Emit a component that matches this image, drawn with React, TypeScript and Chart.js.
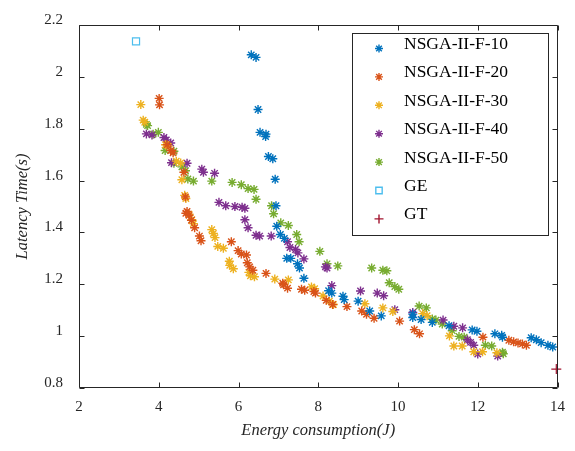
import React, { useEffect, useRef } from "react";
import { Chart, registerables } from "chart.js";

Chart.register(...registerables);

const xTicks = [2, 4, 6, 8, 10, 12, 14];
const yTicks = [0.8, 1, 1.2, 1.4, 1.6, 1.8, 2, 2.2];

const seriesLabels = ["NSGA-II-F-10", "NSGA-II-F-20", "NSGA-II-F-30", "NSGA-II-F-40", "NSGA-II-F-50", "GE", "GT"];

const f10Energy = [6.32, 6.44, 6.49, 6.54, 6.69, 6.68, 6.75, 6.86, 6.92, 6.94, 6.96, 7.05, 7.15, 7.21, 7.31, 7.48, 7.53, 7.64, 8.26, 8.34, 8.62, 8.65, 9.0, 9.29, 9.58, 10.37, 10.37, 10.58, 10.86, 11.28, 11.86, 11.98, 12.43, 12.6, 12.62, 13.34, 13.47, 13.59, 13.76, 13.88];
const f10Latency = [2.085, 2.075, 1.874, 1.786, 1.779, 1.77, 1.693, 1.684, 1.605, 1.503, 1.424, 1.392, 1.377, 1.3, 1.3, 1.279, 1.263, 1.223, 1.175, 1.166, 1.154, 1.141, 1.135, 1.097, 1.078, 1.085, 1.072, 1.064, 1.053, 1.04, 1.024, 1.019, 1.009, 1.003, 0.996, 0.994, 0.986, 0.975, 0.965, 0.958];

const f20Energy = [4.01, 4.02, 4.21, 4.3, 4.36, 4.63, 4.67, 4.71, 4.68, 4.76, 4.82, 4.9, 5.02, 5.06, 5.82, 5.99, 6.07, 6.2, 6.22, 6.28, 6.36, 6.69, 7.11, 7.13, 7.23, 7.58, 7.66, 7.89, 7.93, 8.2, 8.36, 8.72, 9.09, 9.21, 9.4, 10.04, 10.41, 10.54, 12.13, 12.78, 12.9, 13.01, 13.12, 13.22];
const f20Latency = [1.917, 1.892, 1.738, 1.716, 1.707, 1.632, 1.537, 1.481, 1.474, 1.466, 1.447, 1.418, 1.386, 1.368, 1.364, 1.33, 1.317, 1.313, 1.283, 1.267, 1.254, 1.242, 1.204, 1.198, 1.185, 1.181, 1.177, 1.172, 1.166, 1.138, 1.122, 1.114, 1.097, 1.084, 1.069, 1.058, 1.025, 1.009, 0.996, 0.984, 0.978, 0.974, 0.97, 0.965];

const f30Energy = [3.55, 3.61, 3.65, 4.17, 4.24, 4.44, 4.55, 4.58, 4.65, 4.68, 4.76, 4.83, 4.87, 5.33, 5.37, 5.41, 5.48, 5.62, 5.77, 5.78, 5.87, 6.26, 6.3, 6.4, 6.91, 7.25, 7.83, 7.91, 8.12, 8.28, 8.38, 9.17, 9.62, 9.87, 10.62, 10.73, 11.29, 11.4, 11.61, 11.9, 12.12, 12.48];
const f30Latency = [1.893, 1.833, 1.825, 1.738, 1.733, 1.675, 1.668, 1.603, 1.543, 1.531, 1.47, 1.449, 1.434, 1.411, 1.396, 1.38, 1.346, 1.339, 1.289, 1.273, 1.26, 1.246, 1.233, 1.229, 1.22, 1.217, 1.19, 1.183, 1.155, 1.135, 1.122, 1.125, 1.109, 1.095, 1.087, 1.079, 1.001, 0.962, 0.962, 0.94, 0.94, 0.936];

const f40Energy = [3.69, 3.83, 4.13, 4.19, 4.3, 4.32, 4.71, 5.08, 5.12, 5.4, 5.51, 5.68, 5.91, 6.09, 6.16, 6.16, 6.24, 6.44, 6.53, 6.82, 7.23, 7.29, 7.43, 7.49, 7.64, 8.18, 8.22, 8.34, 9.06, 9.48, 9.64, 9.92, 10.37, 11.13, 11.4, 11.62, 11.74, 11.82, 11.9, 12.0, 12.5];
const f40Latency = [1.78, 1.776, 1.766, 1.757, 1.745, 1.669, 1.667, 1.644, 1.632, 1.628, 1.516, 1.503, 1.5, 1.497, 1.493, 1.449, 1.418, 1.389, 1.386, 1.386, 1.364, 1.342, 1.334, 1.321, 1.298, 1.267, 1.263, 1.195, 1.174, 1.166, 1.156, 1.102, 1.091, 1.062, 1.038, 1.032, 0.986, 0.976, 0.965, 0.931, 0.923];

const f50Energy = [3.69, 3.72, 3.86, 3.99, 4.16, 4.38, 4.38, 4.58, 4.67, 4.73, 4.87, 5.33, 5.84, 6.07, 6.24, 6.39, 6.44, 6.83, 6.88, 7.06, 7.25, 7.46, 7.52, 8.04, 8.22, 8.49, 9.34, 9.62, 9.72, 9.78, 9.92, 10.02, 10.53, 10.71, 10.86, 10.95, 11.11, 11.36, 11.53, 11.66, 12.19, 12.35, 12.62, 12.64];
const f50Latency = [1.817, 1.812, 1.779, 1.786, 1.716, 1.713, 1.667, 1.653, 1.638, 1.606, 1.598, 1.598, 1.593, 1.584, 1.569, 1.566, 1.528, 1.503, 1.472, 1.437, 1.427, 1.392, 1.364, 1.327, 1.279, 1.271, 1.263, 1.254, 1.252, 1.206, 1.191, 1.181, 1.116, 1.109, 1.066, 1.062, 1.047, 1.021, 0.999, 0.996, 0.965, 0.962, 0.938, 0.932];

const geEnergy = [3.43];
const geLatency = [2.137];
const gtEnergy = [13.97];
const gtLatency = [0.873];

const colors = ["#0072BD", "#D95319", "#EDB120", "#7E2F8E", "#77AC30", "#4DBEEE", "#A2142F"];
const AX = "#262626";
const FONT = "'Liberation Serif', 'Times New Roman', serif";

function pts(xs: number[], ys: number[]) {
  return xs.map((x, i) => ({ x, y: ys[i] }));
}

function drawMarker(ctx: CanvasRenderingContext2D, style: string, x: number, y: number, r: number, color: string, lw: number) {
  ctx.save();
  ctx.strokeStyle = color;
  ctx.lineWidth = lw;
  ctx.beginPath();
  if (style === "star") {
    ctx.moveTo(x - r, y); ctx.lineTo(x + r, y);
    ctx.moveTo(x, y - r); ctx.lineTo(x, y + r);
    const d = r * Math.SQRT1_2;
    ctx.moveTo(x - d, y - d); ctx.lineTo(x + d, y + d);
    ctx.moveTo(x - d, y + d); ctx.lineTo(x + d, y - d);
  } else if (style === "rect") {
    const s = r * Math.SQRT1_2;
    ctx.rect(x - s, y - s, 2 * s, 2 * s);
  } else {
    ctx.moveTo(x - r, y); ctx.lineTo(x + r, y);
    ctx.moveTo(x, y - r); ctx.lineTo(x, y + r);
  }
  ctx.stroke();
  ctx.restore();
}

const boxPlugin = {
  id: "matlabBox",
  afterDatasetsDraw(chart: any) {
    const { ctx, chartArea } = chart;
    const { left, right, top, bottom } = chartArea;
    const xs = chart.scales.x;
    const ys = chart.scales.y;
    ctx.save();
    ctx.strokeStyle = AX;
    ctx.lineWidth = 1;
    const L = Math.round(left) + 0.5, R = Math.round(right) - 0.5, T = Math.round(top) + 0.5, B = Math.round(bottom) - 0.5;
    ctx.beginPath();
    ctx.rect(L, T, R - L, B - T);
    ctx.stroke();
    const tl = 5;
    ctx.beginPath();
    xTicks.forEach((v) => {
      const px = Math.round(xs.getPixelForValue(v)) + 0.5;
      ctx.moveTo(px, B); ctx.lineTo(px, B - tl);
      ctx.moveTo(px, T); ctx.lineTo(px, T + tl);
    });
    yTicks.forEach((v) => {
      const py = Math.round(ys.getPixelForValue(v)) + 0.5;
      ctx.moveTo(L, py); ctx.lineTo(L + tl, py);
      ctx.moveTo(R, py); ctx.lineTo(R - tl, py);
    });
    ctx.stroke();
    ctx.restore();
  },
  afterDraw(chart: any) {
    const { ctx } = chart;
    const bx = 352.5, by = 33.5, bw = 196, bh = 202;
    ctx.save();
    ctx.fillStyle = "#ffffff";
    ctx.fillRect(bx, by, bw, bh);
    ctx.strokeStyle = AX;
    ctx.lineWidth = 1;
    ctx.strokeRect(bx, by, bw, bh);
    ctx.font = `17.5px ${FONT}`;
    ctx.fillStyle = "#000000";
    ctx.textAlign = "left";
    ctx.textBaseline = "alphabetic";
    chart.data.datasets.forEach((ds: any, i: number) => {
      const ry = 48.5 + i * 28.4;
      drawMarker(ctx, ds.pointStyle, 379, ry, ds.pointStyle === "star" ? 4 : 4.5, ds.borderColor, 1.4);
      ctx.fillText(ds.label, 404, ry + 0.5);
    });
    ctx.restore();
  },
};

export default function App() {
  const ref = useRef<HTMLCanvasElement | null>(null);

  useEffect(() => {
    if (!ref.current) return;
    const starSet = (label: string, data: any[], color: string) => ({
      label,
      data,
      pointStyle: "star",
      borderColor: color,
      backgroundColor: color,
      pointRadius: 4.5,
      pointHoverRadius: 4.5,
      pointBorderWidth: 1.4,
      showLine: false,
    });
    const chart = new Chart(ref.current, {
      type: "scatter",
      data: {
        datasets: [
          starSet(seriesLabels[0], pts(f10Energy, f10Latency), colors[0]),
          starSet(seriesLabels[1], pts(f20Energy, f20Latency), colors[1]),
          starSet(seriesLabels[2], pts(f30Energy, f30Latency), colors[2]),
          starSet(seriesLabels[3], pts(f40Energy, f40Latency), colors[3]),
          starSet(seriesLabels[4], pts(f50Energy, f50Latency), colors[4]),
          {
            label: seriesLabels[5],
            data: pts(geEnergy, geLatency),
            pointStyle: "rect",
            borderColor: colors[5],
            backgroundColor: "rgba(0,0,0,0)",
            pointRadius: 5,
            pointBorderWidth: 1.2,
          },
          {
            label: seriesLabels[6],
            data: pts(gtEnergy, gtLatency),
            pointStyle: "cross",
            borderColor: colors[6],
            backgroundColor: colors[6],
            pointRadius: 5,
            pointBorderWidth: 1.2,
          },
        ] as any,
      },
      options: {
        animation: false,
        responsive: false,
        maintainAspectRatio: false,
        clip: false as any,
        layout: { padding: { top: 18, right: 12, left: 0, bottom: 0 } },
        plugins: { legend: { display: false }, tooltip: { enabled: false } },
        scales: {
          x: {
            type: "linear",
            min: 2,
            max: 14,
            afterBuildTicks: (axis: any) => {
              axis.ticks = xTicks.map((v) => ({ value: v }));
            },
            afterFit: (axis: any) => {
              axis.height = 63;
            },
            grid: { display: false, drawTicks: false },
            border: { display: false },
            ticks: {
              padding: 10,
              color: AX,
              font: { family: FONT, size: 15 },
              maxRotation: 0,
              callback: (v: any) => String(v),
            },
            title: {
              display: true,
              text: "Energy consumption(J)",
              color: AX,
              font: { family: FONT, size: 16.5, style: "italic" },
              padding: { top: 0, bottom: 10 },
            },
          },
          y: {
            type: "linear",
            min: 0.8,
            max: 2.2,
            afterBuildTicks: (axis: any) => {
              axis.ticks = yTicks.map((v) => ({ value: v }));
            },
            afterFit: (axis: any) => {
              axis.width = 79;
            },
            grid: { display: false, drawTicks: false },
            border: { display: false },
            ticks: {
              padding: 16,
              labelOffset: -5,
              color: AX,
              font: { family: FONT, size: 15 },
              callback: (v: any) => String(Math.round(Number(v) * 10) / 10),
            },
            title: {
              display: true,
              text: "Latency Time(s)",
              color: AX,
              font: { family: FONT, size: 16.5, style: "italic" },
              padding: { top: 13, bottom: 0 },
            },
          },
        },
      },
      plugins: [boxPlugin],
    });
    return () => chart.destroy();
  }, []);

  return (
    <div style={{ position: "fixed", left: 0, top: 0, width: 575, height: 451, background: "#fff" }}>
      <canvas ref={ref} width={575} height={451} style={{ display: "block" }} />
    </div>
  );
}
